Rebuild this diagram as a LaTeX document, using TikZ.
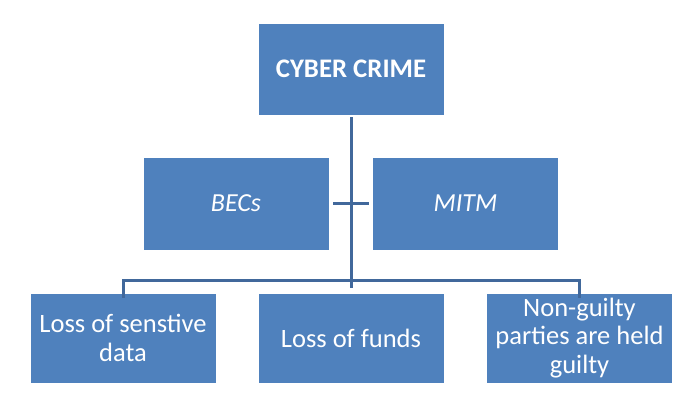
\documentclass[tikz,border=0pt]{standalone}
\usepackage{fontspec}
\setmainfont{Carlito}
\usepackage{xcolor}
\usetikzlibrary{positioning, calc}
\definecolor{officeblue}{RGB}{79, 129, 189}
\definecolor{linkblue}{RGB}{65, 104, 155}

\begin{document}
\begin{tikzpicture}[
    x=1pt, y=-1pt,
    box/.style={rectangle, fill=officeblue, draw=white, line width=0.6pt,
                minimum width=186pt, minimum height=92pt, text=white,
                align=center, inner sep=2pt,
                font=\fontsize{26.5}{28.5}\selectfont},
    link/.style={draw=linkblue, line width=3pt}
]
\useasboundingbox (0,0) rectangle (697,402);

%% ── TOP ─────────────────────────────────────────────────────────────────────
\node[box, font=\fontsize{26.8}{28}\selectfont\bfseries] (crime) at (351, 69) {CYBER CRIME};

%% ── ATTACK TYPES ────────────────────────────────────────────────────────────
\node[box, minimum height=93pt, font=\fontsize{26}{28}\selectfont\itshape] (becs) at (236, 203.5) {BECs};
\node[box, minimum height=93pt, font=\fontsize{26}{28}\selectfont\itshape] (mitm) at (465.5, 203.5) {MITM};

%% ── CONSEQUENCES ────────────────────────────────────────────────────────────
\node[box, minimum height=90pt] (data)   at (123, 338)   {Loss of senstive\\data};
\node[box, minimum height=90pt] (funds)  at (351, 338)   {Loss of funds};
\node[box, minimum height=90pt] (guilty) at (579.5, 338) {Non-guilty\\parties are held\\guilty};

%% ── Links ───────────────────────────────────────────────────────────────────
\draw[link, shorten <=2pt, shorten >=5pt] (crime) -- (funds);
\draw[link, shorten <=4pt, shorten >=3pt] (becs) -- (mitm);
\draw[link] ([yshift=-5pt]data.north) -- ++(0,-17) -| ([yshift=-5pt]guilty.north);

\end{tikzpicture}
\end{document}
